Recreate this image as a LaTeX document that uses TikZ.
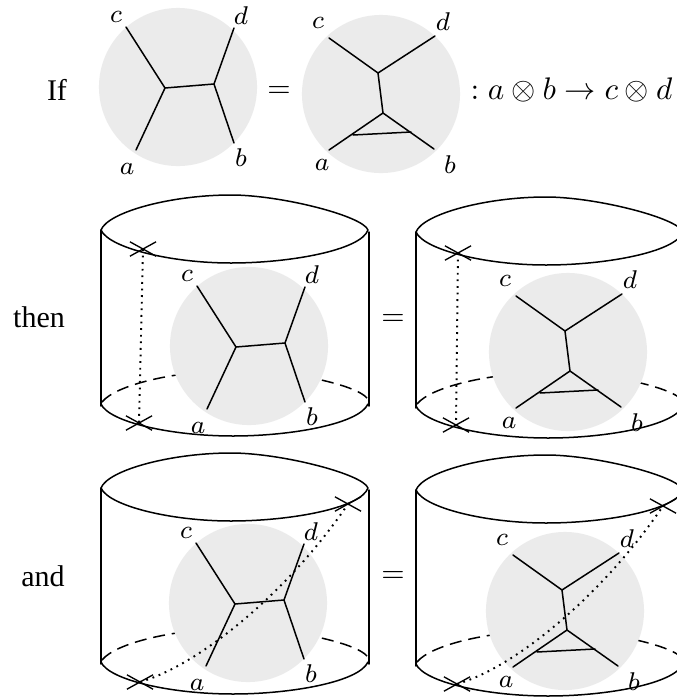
\documentclass[tikz,border=0pt]{standalone}
\usepackage{amsmath,amssymb}
\usepackage{fontspec}
\setmainfont{Liberation Serif}
\usepackage{xcolor}
\usetikzlibrary{shapes.misc}
\tikzset{
  disc/.style  ={circle, fill=black!8, draw=none, minimum size=52.7pt, inner sep=0pt},
  wire/.style  ={line width=0.5pt, line cap=round, line join=round},
  hidden/.style={line width=0.5pt, dash pattern=on 4pt off 2.3pt},
  route/.style ={line width=0.65pt, dash pattern=on 0.6pt off 1.6pt},
  xmark/.style ={cross out, draw, line width=0.45pt, minimum width=8.7pt, minimum height=4.8pt,
                 inner sep=0pt, outer sep=0pt},
  lab/.style   ={inner sep=0pt, font=\footnotesize, scale=1.07, transform shape},
  word/.style  ={anchor=base, inner sep=0pt},
  hgraph/.pic={
    \node[disc] (-o) {};
    \coordinate (-l) at (-13,1);  \coordinate (-r) at (36,-3);
    \coordinate (-c) at (-52,-60); \coordinate (-d) at (56,-59);
    \coordinate (-a) at (-42,63);  \coordinate (-b) at (56,56);
    \draw[wire] (-c)--(-l)--(-a); \draw[wire] (-l)--(-r);
    \draw[wire] (-d)--(-r)--(-b);
    \node[lab] (-tc) at (-62,-70) {$c$}; \node[lab] (-td) at (63,-71) {$d$};
    \node[lab] (-ta) at (-51,82) {$a$};  \node[lab] (-tb) at (63,71) {$b$};
  },
  tgraph/.pic={
    \node[disc] (-o) {};
    \coordinate (-u) at (-3,-21); \coordinate (-v) at (2,19);
    \coordinate (-c) at (-52,-56); \coordinate (-d) at (54,-58);
    \coordinate (-a) at (-52,56);  \coordinate (-b) at (53,55);
    \coordinate (-p) at (-28,41);  \coordinate (-q) at (30,38);
    \draw[wire] (-c)--(-u)--(-d); \draw[wire] (-u)--(-v);
    \draw[wire] (-a)--(-v)--(-b); \draw[wire] (-p)--(-q);
    \node[lab] (-tc) at (-63,-71) {$c$}; \node[lab] (-td) at (62,-72) {$d$};
    \node[lab] (-ta) at (-59,71) {$a$};  \node[lab] (-tb) at (69,71) {$b$};
  },
  cyl/.pic={
    \draw[wire] (0,0) .. controls (7,-18) and (70,-35) .. (130,-35)
                      .. controls (180,-35) and (262,-14) .. (267,0)
                      .. controls (260,20) and (190,33) .. (130,33)
                      .. controls (70,33) and (8,18) .. (0,0);
    \draw[wire] (0,0)--(0,176); \draw[wire] (268,2)--(268,176);
    \draw[wire] (0,174) .. controls (8,192) and (70,206) .. (132,206)
                        .. controls (190,206) and (258,194) .. (267,174);
    \draw[hidden] (1,172) .. controls (15,155) and (70,142) .. (130,140)
                          .. controls (190,140) and (255,155) .. (266,168);
  },
}

\begin{document}
\begin{tikzpicture}[x=0.33333pt, y=-0.33333pt]
\useasboundingbox (0,0) rectangle (676,700);

% first row
\pic (topl) at (178,87) {hgraph};
\pic (topr) at (381,94) {tgraph};
\node[word] (wif) at (57,100) {If};
\node (eqa) at (279,92) {$=$};
\node[anchor=base west, inner sep=0pt, scale=1.04, transform shape] (rule) at (470,99)
  {$: a\otimes b\to c\otimes d$};

% second row
\pic at (101,230) {cyl};
\pic at (416,232) {cyl};
\pic (midl) at (249,346) {hgraph};
\pic (midr) at (568,352) {tgraph};
\node[word] (wthen) at (39,327) {then};
\node (eqb) at (393,320) {$=$};
\node[xmark] (xa) at (143,249) {}; \node[xmark] (xb) at (139,423) {};
\node[xmark] (xc) at (458,253) {}; \node[xmark] (xd) at (456,425) {};
\draw[route] (xa.center)--(xb.center);
\draw[route] (xc.center)--(xd.center);

% third row
\pic at (101,488) {cyl};
\pic at (416,490) {cyl};
\pic (lowl) at (248,603) {hgraph};
\pic (lowr) at (565,611) {tgraph};
\node[word] (wand) at (43,586) {and};
\node (eqc) at (393,577) {$=$};
\node[xmark] (xe) at (348,504) {}; \node[xmark] (xf) at (140,682) {};
\node[xmark] (xg) at (663,506) {}; \node[xmark] (xh) at (457,684) {};
\draw[route] (xf.center) .. controls +(60,-17) and +(-58,86) .. (xe.center);
\draw[route] (xh.center) .. controls +(60,-17) and +(-58,86) .. (xg.center);
\end{tikzpicture}
\end{document}
